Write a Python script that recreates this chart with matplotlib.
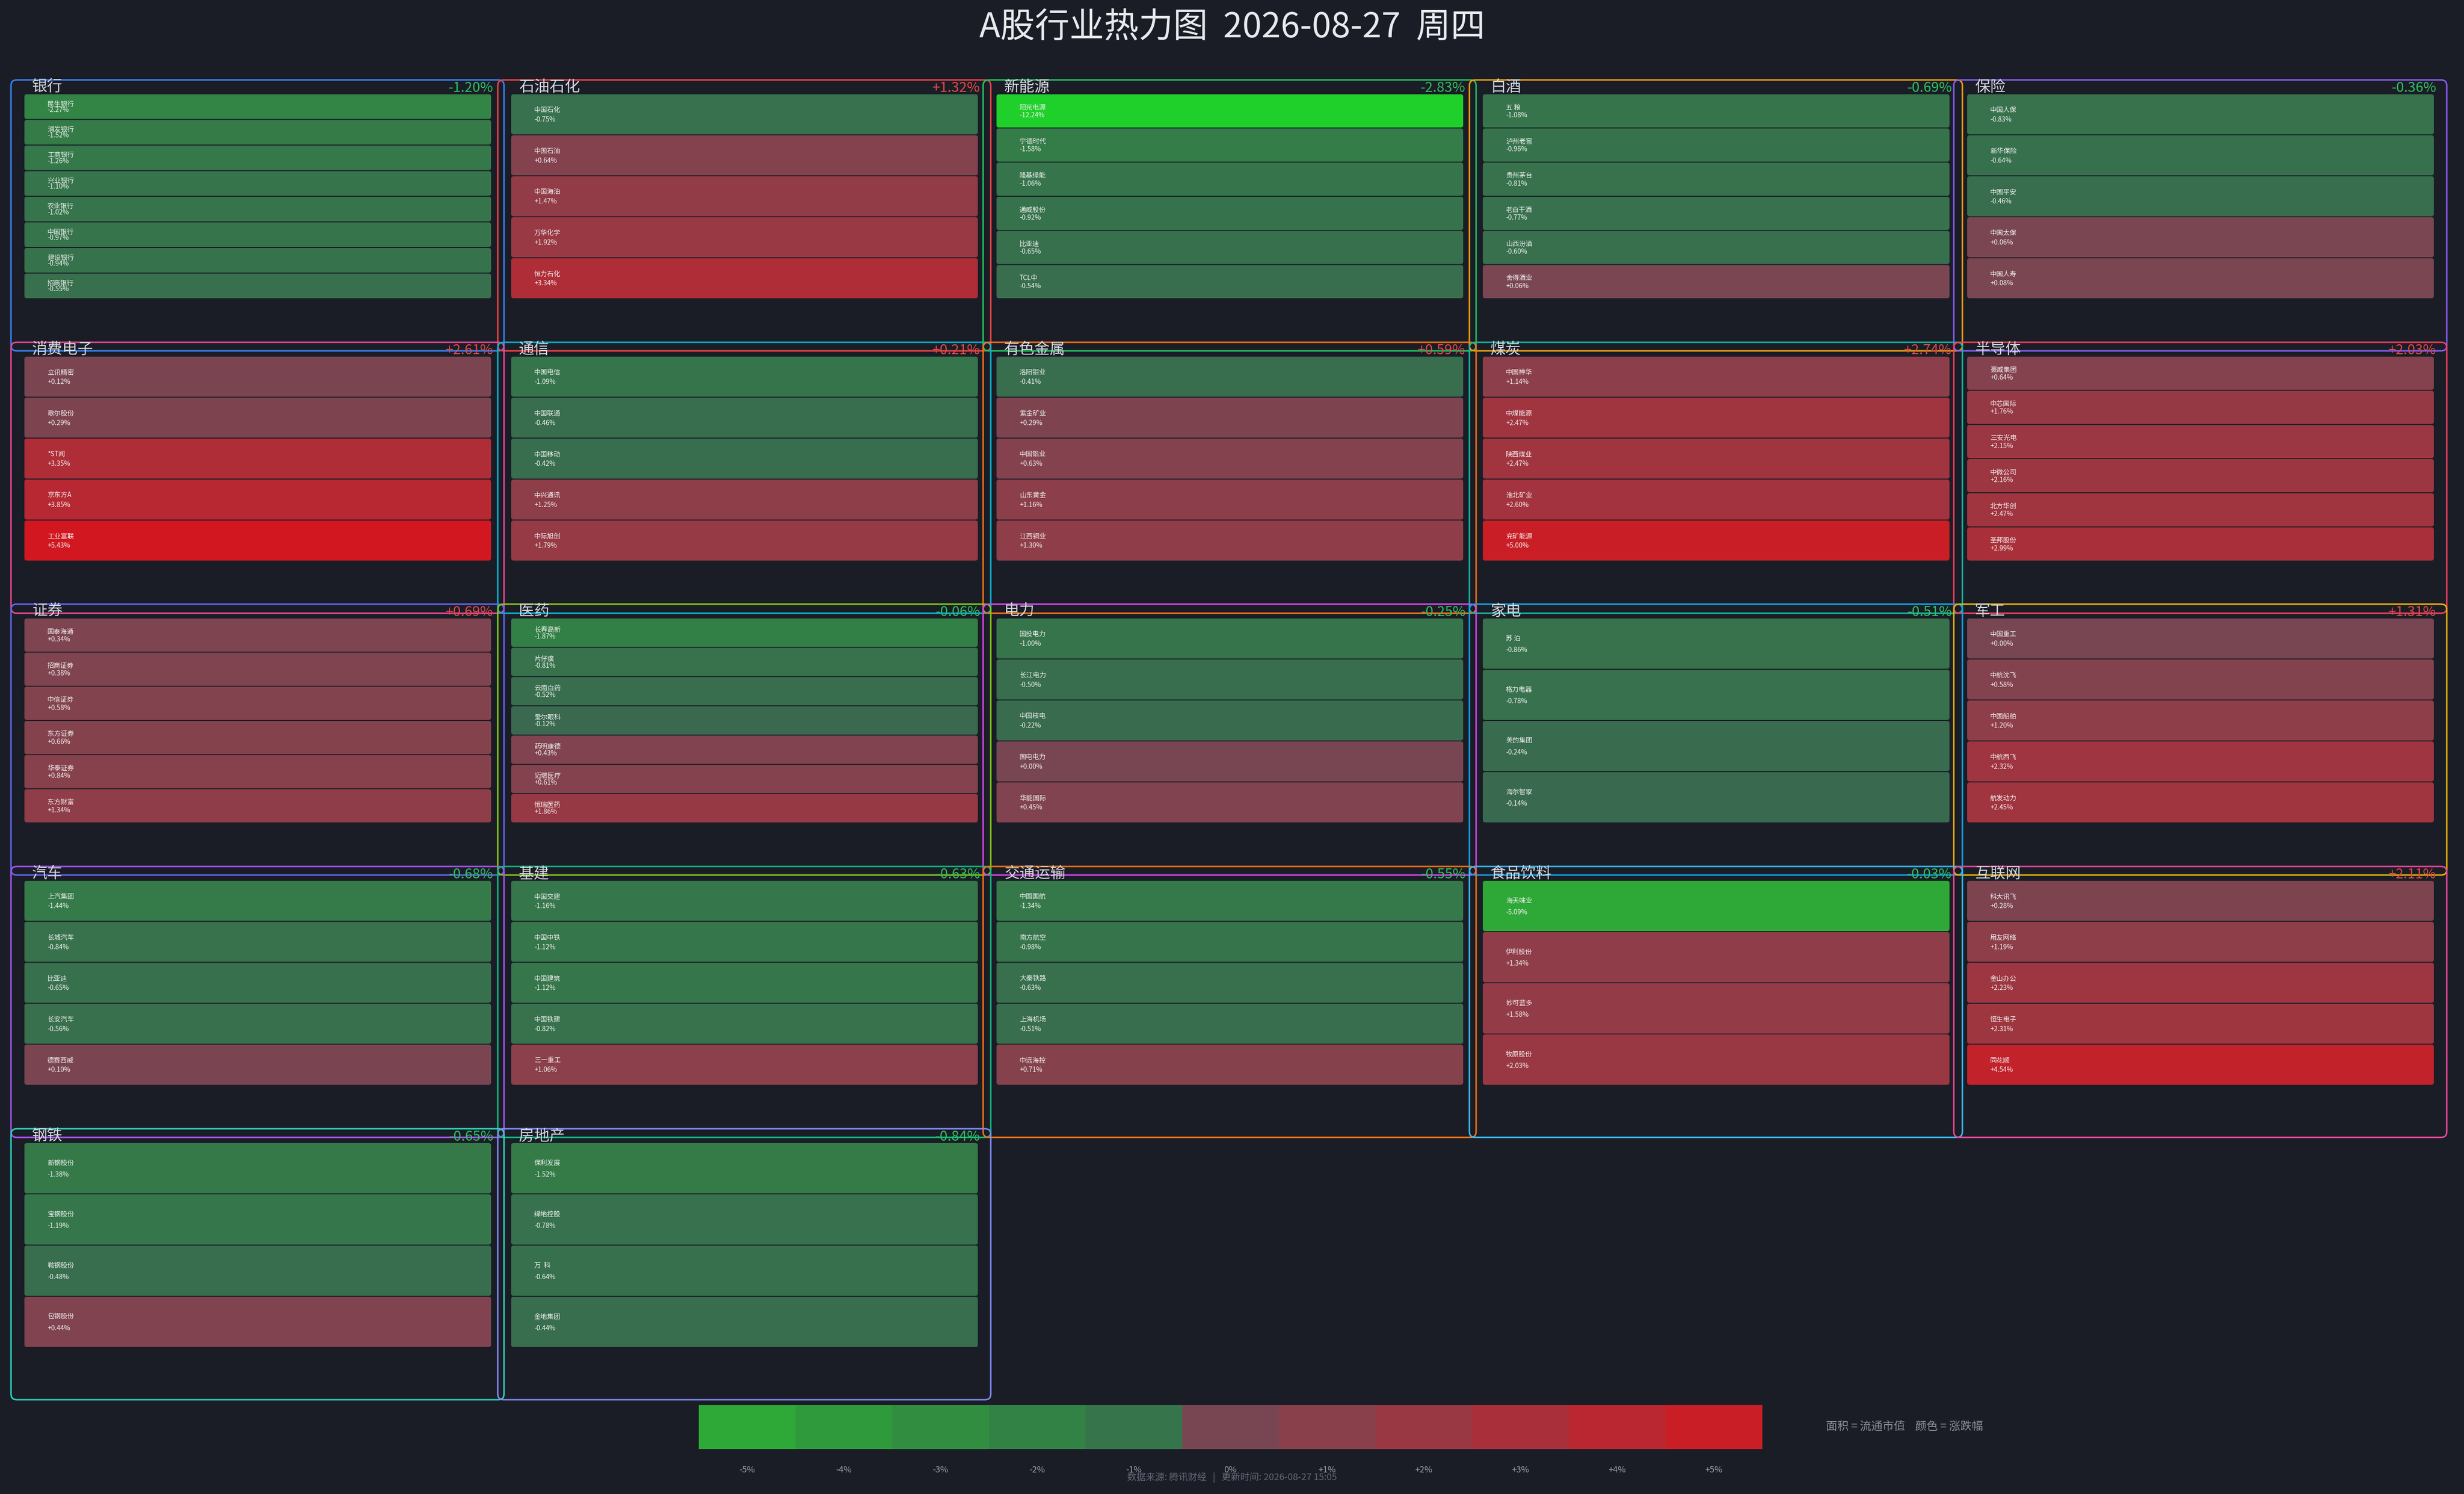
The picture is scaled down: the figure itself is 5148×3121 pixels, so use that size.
import numpy as np
import matplotlib
matplotlib.use("Agg")
import matplotlib.pyplot as plt
from matplotlib.patches import FancyBboxPatch
from matplotlib.colors import LinearSegmentedColormap, Normalize

plt.rcParams['font.family'] = ['Noto Sans CJK SC', 'DejaVu Sans']

title = "A股行业热力图  2026-08-27  周四"

sectors = ["银行", "石油石化", "新能源", "白酒", "保险",
           "消费电子", "通信", "有色金属", "煤炭", "半导体",
           "证券", "医药", "电力", "家电", "军工",
           "汽车", "基建", "交通运输", "食品饮料", "互联网",
           "钢铁", "房地产"]
sector_pct = [-1.20, 1.32, -2.83, -0.69, -0.36,
              2.61, 0.21, 0.59, 2.74, 2.03,
              0.69, -0.06, -0.25, -0.51, 1.31,
              -0.68, -0.63, -0.55, -0.03, 2.11,
              -0.65, -0.84]

stock_names = [
    ["民生银行", "浦发银行", "工商银行", "兴业银行", "农业银行", "中国银行", "建设银行", "招商银行"],
    ["中国石化", "中国石油", "中国海油", "万华化学", "恒力石化"],
    ["阳光电源", "宁德时代", "隆基绿能", "通威股份", "比亚迪", "TCL中"],
    ["五 粮", "泸州老窖", "贵州茅台", "老白干酒", "山西汾酒", "舍得酒业"],
    ["中国人保", "新华保险", "中国平安", "中国太保", "中国人寿"],
    ["立讯精密", "歌尔股份", "*ST闻", "京东方A", "工业富联"],
    ["中国电信", "中国联通", "中国移动", "中兴通讯", "中际旭创"],
    ["洛阳钼业", "紫金矿业", "中国铝业", "山东黄金", "江西铜业"],
    ["中国神华", "中煤能源", "陕西煤业", "淮北矿业", "兖矿能源"],
    ["豪威集团", "中芯国际", "三安光电", "中微公司", "北方华创", "圣邦股份"],
    ["国泰海通", "招商证券", "中信证券", "东方证券", "华泰证券", "东方财富"],
    ["长春高新", "片仔癀", "云南白药", "爱尔眼科", "药明康德", "迈瑞医疗", "恒瑞医药"],
    ["国投电力", "长江电力", "中国核电", "国电电力", "华能国际"],
    ["苏 泊", "格力电器", "美的集团", "海尔智家"],
    ["中国重工", "中航沈飞", "中国船舶", "中航西飞", "航发动力"],
    ["上汽集团", "长城汽车", "比亚迪", "长安汽车", "德赛西威"],
    ["中国交建", "中国中铁", "中国建筑", "中国铁建", "三一重工"],
    ["中国国航", "南方航空", "大秦铁路", "上海机场", "中远海控"],
    ["海天味业", "伊利股份", "妙可蓝多", "牧原股份"],
    ["科大讯飞", "用友网络", "金山办公", "恒生电子", "同花顺"],
    ["新钢股份", "宝钢股份", "鞍钢股份", "包钢股份"],
    ["保利发展", "绿地控股", "万  科", "金地集团"],
]
stock_pct = [
    [-2.27, -1.52, -1.26, -1.10, -1.02, -0.97, -0.94, -0.55],
    [-0.75, 0.64, 1.47, 1.92, 3.34],
    [-12.24, -1.58, -1.06, -0.92, -0.65, -0.54],
    [-1.08, -0.96, -0.81, -0.77, -0.60, 0.06],
    [-0.83, -0.64, -0.46, 0.06, 0.08],
    [0.12, 0.29, 3.35, 3.85, 5.43],
    [-1.09, -0.46, -0.42, 1.25, 1.79],
    [-0.41, 0.29, 0.63, 1.16, 1.30],
    [1.14, 2.47, 2.47, 2.60, 5.00],
    [0.64, 1.76, 2.15, 2.16, 2.47, 2.99],
    [0.34, 0.38, 0.58, 0.66, 0.84, 1.34],
    [-1.87, -0.81, -0.52, -0.12, 0.43, 0.61, 1.86],
    [-1.00, -0.50, -0.22, 0.00, 0.45],
    [-0.86, -0.78, -0.24, -0.14],
    [0.00, 0.58, 1.20, 2.32, 2.45],
    [-1.44, -0.84, -0.65, -0.56, 0.10],
    [-1.16, -1.12, -1.12, -0.82, 1.06],
    [-1.34, -0.98, -0.63, -0.51, 0.71],
    [-5.09, 1.34, 1.58, 2.03],
    [0.28, 1.19, 2.23, 2.31, 4.54],
    [-1.38, -1.19, -0.48, 0.44],
    [-1.52, -0.78, -0.64, -0.44],
]

scale_ticks = [-5, -4, -3, -2, -1, 0, 1, 2, 3, 4, 5]

source_text = "数据来源: 腾讯财经   |   更新时间: 2026-08-27 15:05"
legend_text = "面积 = 流通市值    颜色 = 涨跌幅"

# styling
BG = "#1a1d26"
box_colors = ["#3b82f6", "#ef4444", "#22c55e", "#f59e0b", "#8b5cf6",
              "#ec4899", "#06b6d4", "#f97316", "#14b8a6", "#f43f5e",
              "#6366f1", "#84cc16", "#d946ef", "#0ea5e9", "#eab308",
              "#a855f7", "#10b981", "#f97316", "#38bdf8", "#ec4899",
              "#2dd4bf", "#818cf8"]

neg_cmap = LinearSegmentedColormap.from_list("neg", [
    (0.0, "#1fd12a"), (7.5 / 12.5, "#2ea836"), (8.5 / 12.5, "#2f9a3b"),
    (9.5 / 12.5, "#318e41"), (10.5 / 12.5, "#338245"), (11.5 / 12.5, "#36744c"),
    (1.0, "#3a684f")], N=1024)
pos_cmap = LinearSegmentedColormap.from_list("pos", [
    (0.0, "#784652"), (1 / 5.5, "#8a404b"), (2 / 5.5, "#993843"),
    (3 / 5.5, "#a9303a"), (4 / 5.5, "#ba2730"), (5 / 5.5, "#c91e25"),
    (1.0, "#d4161f")], N=1024)
neg_norm = Normalize(-12.5, 0)
pos_norm = Normalize(0, 5.5)


def pct_color(v):
    if v < 0:
        return neg_cmap(neg_norm(v))
    return pos_cmap(pos_norm(v))


W, H = 5148, 3121
fig = plt.figure(figsize=(W / 100, H / 100), dpi=100, facecolor=BG)
ax = fig.add_axes([0, 0, 1, 1])
ax.set_facecolor(BG)
ax.set_xlim(0, W)
ax.set_ylim(H, 0)
ax.axis("off")

ax.text(W / 2, 58, title, ha="center", va="center", fontsize=52, color="#e8eaed")

lefts = [23, 1040, 2054, 3070, 4082]
tops = [167, 715, 1262, 1810, 2358]
BOX_W, BOX_H = 1030, 566
CELL_L, CELL_T, CELL_W, CELL_H = 28, 29, 975, 428

for i, sec in enumerate(sectors):
    r, c = divmod(i, 5)
    x0, y0 = lefts[c], tops[r]
    ax.add_patch(FancyBboxPatch((x0, y0), BOX_W, BOX_H,
                                boxstyle="round,pad=0,rounding_size=12",
                                fill=False, ec=box_colors[i], lw=2.2, zorder=1))
    ax.text(x0 + 44, y0 + 15, sec, ha="left", va="center", fontsize=23,
            color="#d5d8de", zorder=2)
    sp = sector_pct[i]
    ax.text(x0 + 1008, y0 + 17, f"{sp:+.2f}%", ha="right", va="center", fontsize=21,
            color="#e04848" if sp >= 0 else "#2fbf5f", zorder=2)

    names, vals = stock_names[i], stock_pct[i]
    ch = CELL_H / len(names)
    for j, (nm, v) in enumerate(zip(names, vals)):
        cy = y0 + CELL_T + j * ch
        ax.add_patch(FancyBboxPatch((x0 + CELL_L, cy + 1), CELL_W, ch - 2,
                                    boxstyle="round,pad=0,rounding_size=5",
                                    fc=pct_color(v), ec="none", zorder=3))
        tx = x0 + CELL_L + 48
        ax.text(tx, cy + 0.40 * ch, nm, ha="left", va="center", fontsize=10,
                color="#f2f2f2", zorder=4)
        ax.text(tx, cy + 0.63 * ch, f"{v:+.2f}%", ha="left", va="center", fontsize=10,
                color="#f2f2f2", zorder=4)

# colour scale strip
cax = fig.add_axes([1460 / W, 1 - 3027 / H, 2222 / W, 92 / H])
cax.set_facecolor(BG)
cax.bar(scale_ticks, 1, width=1.0, color=[pct_color(t) for t in scale_ticks],
        align="center", edgecolor="none")
cax.set_xlim(-5.5, 5.5)
cax.set_ylim(0, 1)
cax.set_yticks([])
cax.set_xticks(scale_ticks)
cax.set_xticklabels([f"{t:+d}%" if t > 0 else f"{t:d}%" for t in scale_ticks],
                    fontsize=13, color="#9aa0aa")
cax.tick_params(axis="x", length=0, pad=25)
for s in cax.spines.values():
    s.set_visible(False)

ax.text(W / 2, 3087, source_text, ha="center", va="center", fontsize=14, color="#626775")
ax.text(3815, 2980, legend_text, ha="left", va="center", fontsize=17, color="#8b909a")

fig.savefig("out.png", dpi=100, facecolor=BG)
